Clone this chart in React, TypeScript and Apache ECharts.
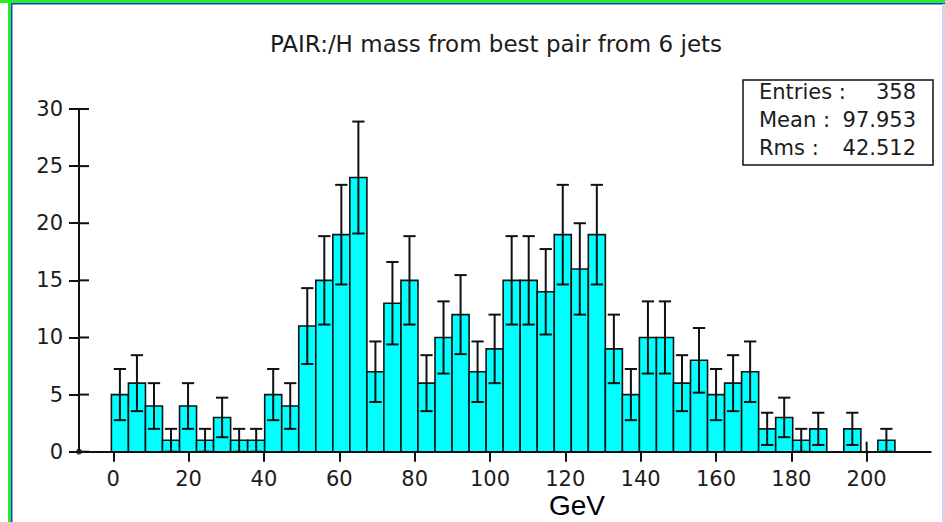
import React, { useEffect, useRef } from "react";
import * as echarts from "echarts";

// ---- data ----
const titleText = "PAIR:/H mass from best pair from 6 jets";
const unitText = "GeV";
const binLow = -0.5; // lower edge of the first bin
const binWidth = 4.5217; // bin width
const counts = [
  5, 6, 4, 1, 4, 1, 3, 1, 1, 5, 4, 11, 15, 19, 24,
  7, 13, 15, 6, 10, 12, 7, 9, 15, 15, 14, 19, 16, 19, 9,
  5, 10, 10, 6, 8, 5, 6, 7, 2, 3, 1, 2, 0, 2, 0, 1,
];
const errors = [
  2.24, 2.45, 2.0, 1.0, 2.0, 1.0, 1.73, 1.0, 1.0, 2.24, 2.0, 3.32, 3.87, 4.36, 4.9,
  2.65, 3.61, 3.87, 2.45, 3.16, 3.46, 2.65, 3.0, 3.87, 3.87, 3.74, 4.36, 4.0, 4.36, 3.0,
  2.24, 3.16, 3.16, 2.45, 2.83, 2.24, 2.45, 2.65, 1.41, 1.73, 1.0, 1.41, 0, 1.41, 0, 1.0,
];
const xTicks = [0, 20, 40, 60, 80, 100, 120, 140, 160, 180, 200];
const yTicks = [0, 5, 10, 15, 20, 25, 30];
const xMin = -9.1;
const xMax = 217;
const yMin = 0;
const yMax = 30;
const yStep = 5;
const statLabels = ["Entries :", "Mean :", "Rms :"];
const statValues = ["358", "97.953", "42.512"];

const FONT = "DejaVu Sans";
const TEXT = "#1c1c1c";
const INK = "#111";
const TICK_IN = 10;

export default function App() {
  const ref = useRef<HTMLDivElement>(null);

  useEffect(() => {
    const chart = echarts.init(ref.current!, null, { renderer: "svg" });

    const barData = counts
      .map((n, i) => [binLow + i * binWidth, binLow + (i + 1) * binWidth, n])
      .filter((d) => d[2] > 0);
    const errData = counts
      .map((n, i) => [binLow + (i + 0.5) * binWidth, n, errors[i]])
      .filter((d) => d[2] > 0);
    const xTickData = xTicks.map((v) => [v, yMin]);
    const yTickData = yTicks.map((v) => [xMin, v]);

    const statGraphics: any[] = [
      {
        type: "rect",
        shape: { x: 743, y: 80, width: 190, height: 85 },
        style: { fill: "#fff", stroke: INK, lineWidth: 1.5 },
        z: 10,
      },
    ];
    statLabels.forEach((lab, i) => {
      statGraphics.push({
        type: "text",
        x: 759,
        y: 92 + i * 28,
        z: 11,
        style: {
          text: lab,
          fill: TEXT,
          font: `21px "${FONT}"`,
          lineHeight: 22,
          textAlign: "left",
          textVerticalAlign: "middle",
        },
      });
      statGraphics.push({
        type: "text",
        x: 916,
        y: 92 + i * 28,
        z: 11,
        style: {
          text: statValues[i],
          fill: TEXT,
          font: `21px "${FONT}"`,
          lineHeight: 22,
          textAlign: "right",
          textVerticalAlign: "middle",
        },
      });
    });

    const option: any = {
      animation: false,
      backgroundColor: "#ffffff",
      grid: { left: 79, right: 14.3, top: 109, bottom: 70.3 },
      xAxis: {
        type: "value",
        position: "bottom",
        min: xMin,
        max: xMax,
        axisLine: { show: true, onZero: false, lineStyle: { color: INK, width: 2 } },
        axisTick: { show: true, length: 10, customValues: xTicks, lineStyle: { color: INK, width: 2 } },
        axisLabel: {
          customValues: xTicks,
          margin: 17,
          color: TEXT,
          fontSize: 21,
          lineHeight: 20,
          fontFamily: FONT,
        },
        splitLine: { show: false },
      },
      yAxis: {
        type: "value",
        position: "left",
        min: yMin,
        max: yMax,
        interval: yStep,
        axisLine: { show: true, onZero: false, lineStyle: { color: INK, width: 2 } },
        axisTick: { show: true, length: 10, lineStyle: { color: INK, width: 2 } },
        axisLabel: { margin: 16, color: TEXT, fontSize: 21, lineHeight: 21, fontFamily: FONT },
        splitLine: { show: false },
      },
      series: [
        {
          // inner halves of the x ticks
          type: "custom",
          z: 1,
          silent: true,
          data: xTickData,
          encode: { x: 0, y: 1 },
          renderItem: (_params: any, api: any) => {
            const p = api.coord([api.value(0), api.value(1)]);
            return {
              type: "line",
              shape: { x1: p[0], y1: p[1], x2: p[0], y2: p[1] - TICK_IN },
              style: { stroke: INK, lineWidth: 2 },
            };
          },
        },
        {
          // inner halves of the y ticks
          type: "custom",
          z: 1,
          silent: true,
          data: yTickData,
          encode: { x: 0, y: 1 },
          renderItem: (_params: any, api: any) => {
            const p = api.coord([api.value(0), api.value(1)]);
            return {
              type: "line",
              shape: { x1: p[0], y1: p[1], x2: p[0] + TICK_IN, y2: p[1] },
              style: { stroke: INK, lineWidth: 2 },
            };
          },
        },
        {
          type: "custom",
          z: 3,
          data: barData,
          encode: { x: [0, 1], y: 2 },
          renderItem: (_params: any, api: any) => {
            const lo = api.value(0);
            const hi = api.value(1);
            const n = api.value(2);
            const p0 = api.coord([lo, n]);
            const p1 = api.coord([hi, 0]);
            return {
              type: "rect",
              shape: { x: p0[0], y: p0[1], width: p1[0] - p0[0], height: p1[1] - p0[1] },
              style: { fill: "#00ffff", stroke: INK, lineWidth: 1.6 },
            };
          },
        },
        {
          type: "custom",
          z: 4,
          data: errData,
          encode: { x: 0, y: 1 },
          renderItem: (_params: any, api: any) => {
            const c = api.value(0);
            const n = api.value(1);
            const e = api.value(2);
            const top = api.coord([c, n + e]);
            const bot = api.coord([c, n - e]);
            const half = (api.size([binWidth, 0])[0] * 0.72) / 2;
            const ls = { stroke: INK, lineWidth: 2 };
            return {
              type: "group",
              children: [
                { type: "line", shape: { x1: top[0], y1: top[1], x2: bot[0], y2: bot[1] }, style: ls },
                { type: "line", shape: { x1: top[0] - half, y1: top[1], x2: top[0] + half, y2: top[1] }, style: ls },
                { type: "line", shape: { x1: bot[0] - half, y1: bot[1], x2: bot[0] + half, y2: bot[1] }, style: ls },
              ],
            };
          },
        },
        {
          type: "scatter",
          z: 5,
          symbol: "circle",
          symbolSize: 6,
          itemStyle: { color: INK },
          clip: false,
          silent: true,
          data: [[xMin, yMin]],
        },
      ],
      graphic: [
        // window frame decorations
        { type: "rect", shape: { x: 0, y: 0, width: 945, height: 3 }, style: { fill: "#22ee22" }, z: 20 },
        { type: "rect", shape: { x: 8, y: 0, width: 3, height: 522 }, style: { fill: "#22ee22" }, z: 20 },
        { type: "rect", shape: { x: 11, y: 3, width: 934, height: 1.5 }, style: { fill: "#2233ee" }, z: 20 },
        { type: "rect", shape: { x: 11, y: 3, width: 1.5, height: 519 }, style: { fill: "#2233ee" }, z: 20 },
        { type: "rect", shape: { x: 942, y: 4, width: 3, height: 518 }, style: { fill: "#d4d4f4" }, z: 20 },
        {
          type: "text",
          x: 496,
          y: 44,
          z: 11,
          style: {
            text: titleText,
            fill: TEXT,
            font: `23px "${FONT}"`,
            lineHeight: 24,
            textAlign: "center",
            textVerticalAlign: "middle",
          },
        },
        {
          type: "text",
          x: 549,
          y: 505,
          z: 11,
          style: {
            text: unitText,
            fill: "#000",
            font: `28px "Liberation Sans"`,
            lineHeight: 22,
            textAlign: "left",
            textVerticalAlign: "middle",
          },
        },
        ...statGraphics,
      ],
    };

    chart.setOption(option);
    return () => chart.dispose();
  }, []);

  return (
    <div
      ref={ref}
      style={{ position: "absolute", left: 0, top: 0, width: 945, height: 522, background: "#fff" }}
    />
  );
}
